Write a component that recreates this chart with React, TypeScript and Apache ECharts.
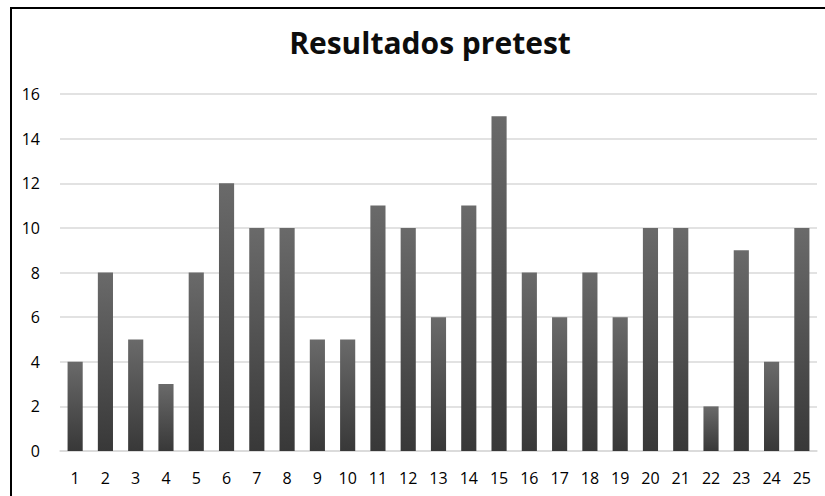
import React, { useEffect, useRef } from "react";
import * as echarts from "echarts";

const categories = ["1","2","3","4","5","6","7","8","9","10","11","12","13","14","15","16","17","18","19","20","21","22","23","24","25"];
const values = [4, 8, 5, 3, 8, 12, 10, 10, 5, 5, 11, 10, 6, 11, 15, 8, 6, 8, 6, 10, 10, 2, 9, 4, 10];
const titleText = "Resultados pretest";

export default function App() {
  const ref = useRef<HTMLDivElement>(null);
  useEffect(() => {
    const chart = echarts.init(ref.current!, null, { renderer: "svg" });
    chart.setOption({
      animation: false,
      backgroundColor: "#ffffff",
      title: {
        text: titleText,
        left: 425,
        top: 22,
        textAlign: "center",
        textStyle: { fontFamily: "Open Sans", fontWeight: "bold", fontSize: 30, color: "#0d0d0d" },
      },
      graphic: [
        {
          type: "rect",
          shape: { x: 11, y: 8, width: 830, height: 500 },
          style: { fill: "none", stroke: "#000", lineWidth: 2 },
          silent: true,
        },
      ],
      grid: { left: 60, right: 8, top: 94, bottom: 45 },
      xAxis: {
        type: "category",
        data: categories,
        axisLine: { show: true, lineStyle: { color: "#d9d9d9", width: 1.5 } },
        axisTick: { show: false },
        axisLabel: { fontFamily: "Open Sans", fontSize: 16, color: "#000", margin: 19 },
      },
      yAxis: {
        type: "value",
        min: 0,
        max: 16,
        interval: 2,
        axisLine: { show: false },
        axisTick: { show: false },
        splitLine: { lineStyle: { color: "#d9d9d9", width: 1.5 } },
        axisLabel: { fontFamily: "Open Sans", fontSize: 16, color: "#000", margin: 20 },
      },
      series: [
        {
          type: "bar",
          data: values,
          barCategoryGap: "50%",
          itemStyle: {
            color: new echarts.graphic.LinearGradient(0, 0, 0, 1, [
              { offset: 0, color: "#6a6a6a" },
              { offset: 1, color: "#383838" },
            ]),
          },
        },
      ],
    });
    return () => chart.dispose();
  }, []);
  return (
    <div
      ref={ref}
      style={{ position: "fixed", left: 0, top: 0, width: 825, height: 496 }}
    />
  );
}
